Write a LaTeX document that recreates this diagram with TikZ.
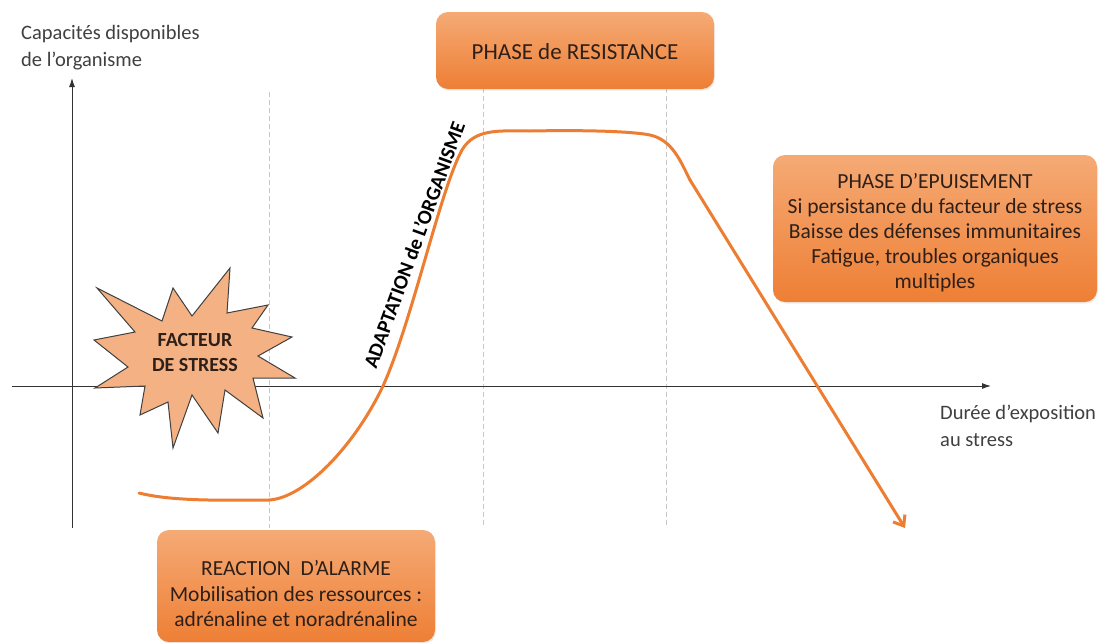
\documentclass[tikz,border=0pt]{standalone}
\usepackage{fontspec}
\setmainfont{Carlito}
\usetikzlibrary{arrows.meta,shadows}
\definecolor{curve}{HTML}{ED7D31}
\definecolor{boxtop}{HTML}{F5AA75}
\definecolor{boxbot}{HTML}{EE7F35}
\definecolor{starfill}{HTML}{F4B183}
\definecolor{txt}{HTML}{404040}
\definecolor{boxtxt}{HTML}{2E2019}
\definecolor{guide}{HTML}{C8C8C8}
\tikzset{
  phasebox/.style={rounded corners=12pt, top color=boxtop, bottom color=boxbot, draw=none,
    drop shadow={opacity=0.15, shadow xshift=1pt, shadow yshift=-1.5pt}},
  phasetext/.style={text=boxtxt, font=\fontsize{21.5}{25}\selectfont, align=center},
  axis/.style={draw=black!80, line width=1pt, -{Latex[length=9pt,width=6pt]}},
  guideline/.style={draw=guide, dashed, dash pattern=on 5pt off 3pt, line width=0.8pt},
  curveline/.style={draw=curve, line width=3pt, line cap=round},
  lbl/.style={text=txt, font=\fontsize{20.5}{27}\selectfont, align=left, anchor=north west, inner sep=0pt}
}
\begin{document}
\begin{tikzpicture}[x=1pt,y=-1pt]
\useasboundingbox (0,0) rectangle (1104,643);
\fill[white] (0,0) rectangle (1104,643);
% guides
\coordinate (g1t) at (269,92); \coordinate (g1b) at (269,528);
\coordinate (g2t) at (483,88); \coordinate (g2b) at (483,528);
\coordinate (g3t) at (666,88); \coordinate (g3b) at (666,528);
\draw[guideline] (g1t) -- (g1b);
\draw[guideline] (g2t) -- (g2b);
\draw[guideline] (g3t) -- (g3b);
% axes
\coordinate (yo) at (72,528); \coordinate (ye) at (72,78);
\coordinate (xo) at (12,386); \coordinate (xe) at (991,386);
\draw[axis] (yo) -- (ye);
\draw[axis] (xo) -- (xe);
% axis labels
\node[lbl] (ylab) at (21,25) {Capacités disponibles\\de l’organisme};
\node[lbl] (xlab) at (940,405) {Durée d’exposition\\au stress};
% curve
\coordinate (c0) at (139,493);
\coordinate (cend) at (905,528);
\draw[curveline] (c0) .. controls (175,502) and (230,500) .. (269,500)
  .. controls (305,498) and (355,445) .. (383,386)
  .. controls (412,322) and (440,190) .. (462,150)
  .. controls (475,128) and (500,131) .. (530,131)
  .. controls (580,130) and (630,131) .. (650,135)
  .. controls (672,140) and (680,160) .. (690,180);
\coordinate (c1) at (690,180);
\draw[curveline, -{Straight Barb[length=9pt,width=14pt,line width=3pt]}] (c1) -- (cend);
% star
\draw[fill=starfill, draw=black!75, line width=1pt, line join=miter]
 (97,288) -- (162,321) -- (173,288) -- (192,316) -- (230,268) -- (227,313) -- (268,305)
 -- (252,328) -- (292,337) -- (258,356) -- (295,378) -- (253,378) -- (263,418)
 -- (225,390) -- (218,433) -- (192,395) -- (173,448) -- (168,402) -- (140,415)
 -- (145,386) -- (95,388) -- (128,367) -- (94,340) -- (135,332) -- cycle;
\node[text=boxtxt, font=\fontsize{20}{25}\selectfont\bfseries, align=center] (star) at (195,353) {FACTEUR\\DE STRESS};
% rotated label
\node[text=black, font=\fontsize{20.5}{22}\selectfont\bfseries, rotate=70, inner sep=0pt] (adapt) at (414,245) {ADAPTATION de L’ORGANISME};
% boxes
\node[phasebox, minimum width=278pt, minimum height=77pt] (res) at (575,50.5) {};
\node[phasetext, font=\fontsize{23}{25}\selectfont] at ([yshift=-1.5pt]res.center) {PHASE de RESISTANCE};
\node[phasebox, minimum width=324pt, minimum height=147pt] (epu) at (935,228.5) {};
\node[phasetext] at ([yshift=-4pt]epu.center) {PHASE D’EPUISEMENT\\Si persistance du facteur de stress\\Baisse des défenses immunitaires\\Fatigue, troubles organiques\\multiples};
\node[phasebox, minimum width=278pt, minimum height=112pt] (ala) at (296,586) {};
\node[phasetext, anchor=north, font=\fontsize{21.5}{25.5}\selectfont] at (296,557) {REACTION\ \ D’ALARME\\Mobilisation des ressources :\\adrénaline et noradrénaline};
\end{tikzpicture}
\end{document}
